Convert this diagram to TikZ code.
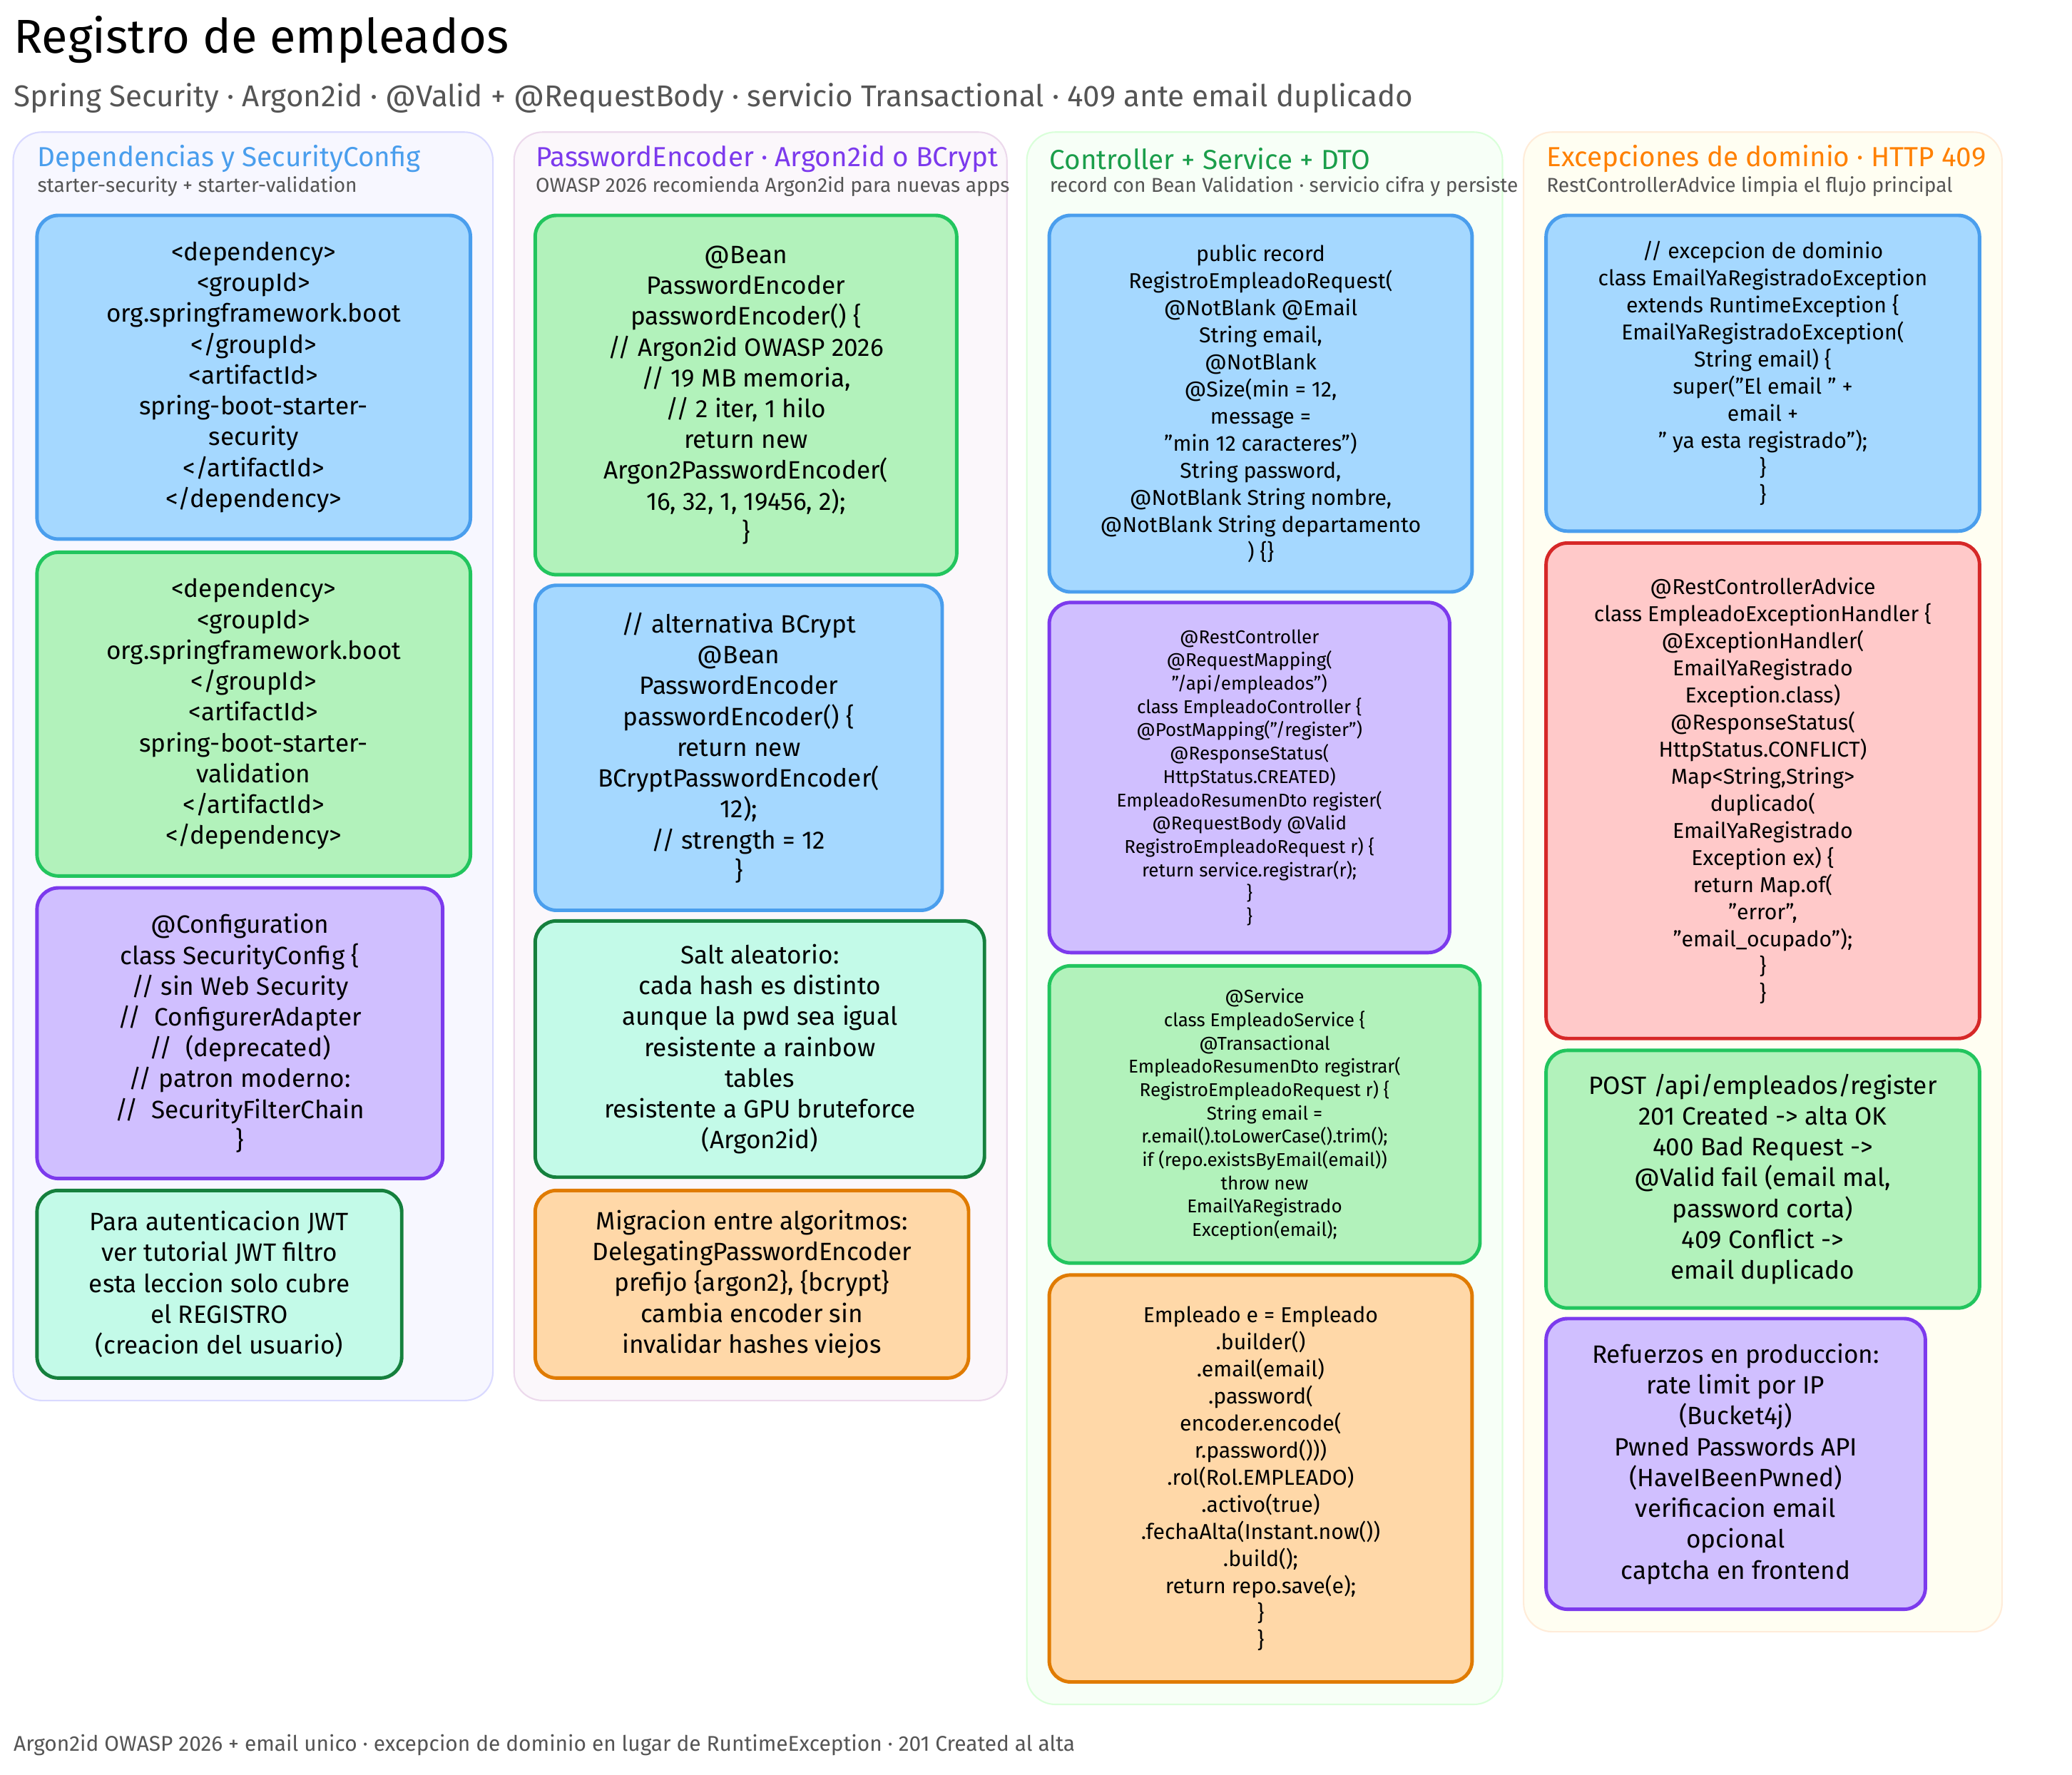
\documentclass[tikz,border=0pt]{standalone}
\usepackage{fontspec}
\setmainfont{Fira Sans}
\usetikzlibrary{positioning}
\definecolor{bluefill}{HTML}{A5D8FF}\definecolor{bluedraw}{HTML}{4A9EED}
\definecolor{greenfill}{HTML}{B2F2BB}\definecolor{greendraw}{HTML}{22C55E}
\definecolor{purplefill}{HTML}{D0BFFF}\definecolor{purpledraw}{HTML}{7C3AED}
\definecolor{tealfill}{HTML}{C3FAE8}\definecolor{tealdraw}{HTML}{15803D}
\definecolor{orangefill}{HTML}{FFD8A8}\definecolor{orangedraw}{HTML}{E07B00}
\definecolor{redfill}{HTML}{FFC9C9}\definecolor{reddraw}{HTML}{D62828}
\definecolor{graytext}{HTML}{555555}
\tikzset{
  card/.style = {line width=1.4pt, rounded corners=0.3cm},
  cblue/.style = {card, fill=bluefill, draw=bluedraw},
  cgreen/.style = {card, fill=greenfill, draw=greendraw},
  cpurple/.style = {card, fill=purplefill, draw=purpledraw},
  cteal/.style = {card, fill=tealfill, draw=tealdraw},
  corange/.style = {card, fill=orangefill, draw=orangedraw},
  cred/.style = {card, fill=redfill, draw=reddraw},
  panel/.style = {line width=0.6pt, rounded corners=0.4cm},
  txt/.style = {align=center, inner sep=0pt},
  big/.style = {font=\fontsize{10}{12.3}\selectfont},
  mid/.style = {font=\fontsize{8.6}{10.8}\selectfont},
  small/.style = {font=\fontsize{7.4}{9.3}\selectfont},
  head/.style = {anchor=west, inner sep=0pt, font=\fontsize{11}{13}\selectfont},
  sub/.style = {anchor=west, inner sep=0pt, text=graytext, font=\fontsize{8}{10}\selectfont}
}
% style, x1, y1, x2, y2, name, text size, text
\newcommand\card[8]{%
  \draw[#1] (#2,#3) rectangle (#4,#5);
  \node[txt, #7] (#6) at ({(#2+#4)/2},{(#3+#5)/2}) {#8};}
\begin{document}
\begin{tikzpicture}[x=0.01853cm, y=-0.01853cm]
\useasboundingbox (0,0) rectangle (1568,1343);

\node[anchor=west, inner sep=0pt, font=\fontsize{19}{22}\selectfont] (title) at (10,30) {Registro de empleados};
\node[anchor=west, inner sep=0pt, text=graytext, font=\fontsize{12}{14}\selectfont] (subtitle) at (10,74)
  {Spring Security · Argon2id · @Valid + @RequestBody · servicio Transactional · 409 ante email duplicado};
\node[sub, font=\fontsize{8.5}{10}\selectfont] (footer) at (10,1321) {Argon2id OWASP 2026 + email unico · excepcion de dominio en lugar de RuntimeException · 201 Created al alta};

% panels
\draw[panel, fill=blue!3, draw=blue!15] (10,100) rectangle (373,1060);
\draw[panel, fill=violet!3, draw=violet!15] (389,100) rectangle (762,1060);
\draw[panel, fill=green!3, draw=green!15] (777,100) rectangle (1137,1290);
\draw[panel, fill=yellow!5, draw=orange!15] (1153,100) rectangle (1515,1235);

\node[head, text=bluedraw] (h1) at (28,120) {Dependencias y SecurityConfig};
\node[sub] (s1) at (28,141) {starter-security + starter-validation};
\node[head, text=purpledraw] (h2) at (405,120) {PasswordEncoder · Argon2id o BCrypt};
\node[sub] (s2) at (405,141) {OWASP 2026 recomienda Argon2id para nuevas apps};
\node[head, text=greendraw!80!black] (h3) at (794,120) {Controller + Service + DTO};
\node[sub] (s3) at (794,141) {record con Bean Validation · servicio cifra y persiste};
\node[head, text=orange] (h4) at (1170,120) {Excepciones de dominio · HTTP 409};
\node[sub] (s4) at (1170,141) {RestControllerAdvice limpia el flujo principal};

% column 1
\card{cblue}{28}{163}{356}{408}{dep1}{big}{<dependency>\\ <groupId>\\ org.springframework.boot\\ </groupId>\\ <artifactId>\\ spring-boot-starter-\\ security\\ </artifactId>\\ </dependency>}
\card{cgreen}{28}{418}{356}{663}{dep2}{big}{<dependency>\\ <groupId>\\ org.springframework.boot\\ </groupId>\\ <artifactId>\\ spring-boot-starter-\\ validation\\ </artifactId>\\ </dependency>}
\card{cpurple}{28}{672}{335}{892}{config}{big}{@Configuration\\ class SecurityConfig \{\\ // sin Web Security\\ // \ ConfigurerAdapter\\ // \ (deprecated)\\ // patron moderno:\\ // \ SecurityFilterChain\\ \}}
\card{cteal}{28}{901}{304}{1043}{jwt}{big}{Para autenticacion JWT\\ ver tutorial JWT filtro\\ esta leccion solo cubre\\ el REGISTRO\\ (creacion del usuario)}

% column 2
\card{cgreen}{405}{163}{724}{435}{argon}{big}{@Bean\\ PasswordEncoder\\ passwordEncoder() \{\\ // Argon2id OWASP 2026\\ // 19 MB memoria,\\ // 2 iter, 1 hilo\\ return new\\ Argon2PasswordEncoder(\\ 16, 32, 1, 19456, 2);\\ \}}
\card{cblue}{405}{443}{713}{689}{bcrypt}{big}{// alternativa BCrypt\\ @Bean\\ PasswordEncoder\\ passwordEncoder() \{\\ return new\\ BCryptPasswordEncoder(\\ 12);\\ // strength = 12\\ \}}
\card{cteal}{405}{697}{745}{891}{salt}{big}{Salt aleatorio:\\ cada hash es distinto\\ aunque la pwd sea igual\\ resistente a rainbow\\ tables\\ resistente a GPU bruteforce\\ (Argon2id)}
\card{corange}{405}{901}{733}{1043}{migra}{big}{Migracion entre algoritmos:\\ DelegatingPasswordEncoder\\ prefijo \{argon2\}, \{bcrypt\}\\ cambia encoder sin\\ invalidar hashes viejos}

% column 3
\card{cblue}{794}{163}{1114}{448}{dto}{mid}{public record\\ RegistroEmpleadoRequest(\\ @NotBlank @Email\\ String email,\\ @NotBlank\\ @Size(min = 12,\\ message =\\ "min 12 caracteres")\\ String password,\\ @NotBlank String nombre,\\ @NotBlank String departamento\\ ) \{\}}
\card{cpurple}{794}{456}{1097}{721}{ctrl}{small}{@RestController\\ @RequestMapping(\\ "/api/empleados")\\ class EmpleadoController \{\\ @PostMapping("/register")\\ @ResponseStatus(\\ HttpStatus.CREATED)\\ EmpleadoResumenDto register(\\ @RequestBody @Valid\\ RegistroEmpleadoRequest r) \{\\ return service.registrar(r);\\ \}\\ \}}
\card{cgreen}{794}{731}{1120}{956}{service}{small}{@Service\\ class EmpleadoService \{\\ @Transactional\\ EmpleadoResumenDto registrar(\\ RegistroEmpleadoRequest r) \{\\ String email =\\ r.email().toLowerCase().trim();\\ if (repo.existsByEmail(email))\\ throw new\\ EmailYaRegistrado\\ Exception(email);}
\card{corange}{794}{965}{1114}{1273}{builder}{mid}{Empleado e = Empleado\\ .builder()\\ .email(email)\\ .password(\\ encoder.encode(\\ r.password()))\\ .rol(Rol.EMPLEADO)\\ .activo(true)\\ .fechaAlta(Instant.now())\\ .build();\\ return repo.save(e);\\ \}\\ \}}

% column 4
\card{cblue}{1170}{163}{1498}{402}{exc}{mid}{// excepcion de dominio\\ class EmailYaRegistradoException\\ extends RuntimeException \{\\ EmailYaRegistradoException(\\ String email) \{\\ super("El email " +\\ email +\\ " ya esta registrado");\\ \}\\ \}}
\card{cred}{1170}{411}{1498}{786}{advice}{mid}{@RestControllerAdvice\\ class EmpleadoExceptionHandler \{\\ @ExceptionHandler(\\ EmailYaRegistrado\\ Exception.class)\\ @ResponseStatus(\\ HttpStatus.CONFLICT)\\ Map<String,String>\\ duplicado(\\ EmailYaRegistrado\\ Exception ex) \{\\ return Map.of(\\ "error",\\ "email\_ocupado");\\ \}\\ \}}
\card{cgreen}{1170}{795}{1498}{990}{http}{big}{POST /api/empleados/register\\ 201 Created -> alta OK\\ 400 Bad Request ->\\ @Valid fail (email mal,\\ password corta)\\ 409 Conflict ->\\ email duplicado}
\card{cpurple}{1170}{998}{1457}{1218}{prod}{big}{Refuerzos en produccion:\\ rate limit por IP\\ (Bucket4j)\\ Pwned Passwords API\\ (HaveIBeenPwned)\\ verificacion email\\ opcional\\ captcha en frontend}
\end{tikzpicture}
\end{document}
